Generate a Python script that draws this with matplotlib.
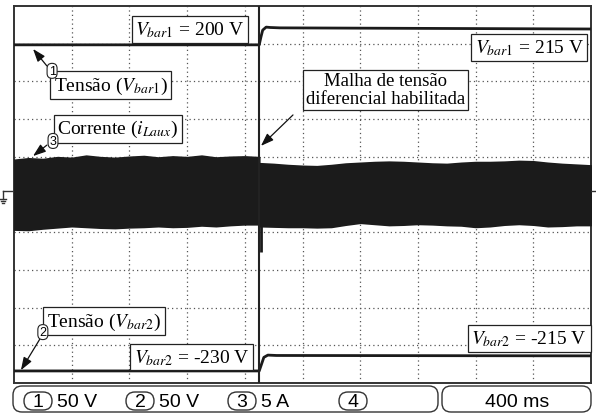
import numpy as np
import matplotlib.pyplot as plt
from matplotlib.patches import FancyBboxPatch

plt.rcParams.update({
    "font.family": ["Liberation Serif", "DejaVu Serif"],
    "mathtext.fontset": "stix",
})

#############################################
# Scope data (divisions)
# x: 10 div of 400 ms, y: 10 div (+-5)
#############################################
t_step = 4.25  # differential voltage loop enabled

# channel 1: V_bar1
v1_t = [0, 4.25, 4.28, 4.31, 4.37, 4.44, 4.61, 10]
v1_y = [3.97, 3.97, 4.18, 4.36, 4.44, 4.43, 4.42, 4.39]

# channel 2: V_bar2
v2_t = [0, 4.25, 4.29, 4.33, 4.40, 4.55, 10]
v2_y = [-4.68, -4.68, -4.50, -4.32, -4.26, -4.27, -4.28]

# channel 3: i_Laux ripple envelope (before / after the step)
env1_t = np.arange(0, 4.26, 0.25)
env1_top = [0.92, 0.96, 0.94, 0.99, 0.97, 1.03, 0.99, 0.97, 1.00,
            1.02, 0.98, 1.01, 0.99, 1.03, 0.98, 1.00, 1.01, 0.99]
env1_bot = [-0.93, -0.94, -0.90, -0.87, -0.84, -0.86, -0.88, -0.89, -0.87,
            -0.86, -0.84, -0.86, -0.85, -0.82, -0.84, -0.81, -0.79, -0.79]

env2_t = np.arange(4.25, 10.01, 0.25)
env2_top = [0.83, 0.81, 0.78, 0.76, 0.75, 0.78, 0.82, 0.84, 0.86, 0.87,
            0.86, 0.84, 0.82, 0.81, 0.84, 0.86, 0.86, 0.87, 0.89, 0.88,
            0.84, 0.81, 0.79, 0.77]
env2_bot = [-0.84, -0.85, -0.86, -0.86, -0.87, -0.86, -0.80, -0.75, -0.78,
            -0.81, -0.80, -0.78, -0.79, -0.81, -0.82, -0.86, -0.84, -0.80,
            -0.78, -0.80, -0.84, -0.83, -0.81, -0.81]

spike_t = 4.28
spike_lo = -1.53

# bottom status bar
ch_labels = ["1", "2", "3", "4"]
ch_scales = ["50 V", "50 V", "5 A", ""]
time_scale = "400 ms"

#############################################
# Figure
#############################################
fig = plt.figure(figsize=(5.96, 4.14), dpi=100)
ax = fig.add_axes([14 / 596, 30 / 414, 577 / 596, 377 / 414])
ax.set_xlim(0, 10)
ax.set_ylim(-5, 5)
ax.set_xticks(range(1, 10))
ax.set_yticks(range(-4, 5))
ax.tick_params(length=0, labelbottom=False, labelleft=False)
ax.grid(True, ls=(0, (1, 2.5)), color="#555555", lw=0.9)
for s in ax.spines.values():
    s.set_color("#333333")
    s.set_linewidth(1.4)

ink = "#1b1b1b"
ax.fill_between(env1_t, env1_bot, env1_top, color=ink, lw=1.2, ec=ink, zorder=3)
ax.fill_between(env2_t, env2_bot, env2_top, color=ink, lw=1.2, ec=ink, zorder=3)
ax.vlines(spike_t, spike_lo, -0.7, color=ink, lw=2, zorder=3)
ax.plot(v1_t, v1_y, color=ink, lw=2, zorder=4)
ax.plot(v2_t, v2_y, color=ink, lw=2, zorder=4)
ax.axvline(t_step, color="#222222", lw=1.5, zorder=5)

# annotations
box = dict(boxstyle="square,pad=0.18", fc="white", ec="#222222", lw=0.9)
txt = dict(ha="center", va="center", fontsize=14, bbox=box, zorder=7)
ax.text(3.05, 4.38, r"$V_{bar1}$ = 200 V", **txt)
ax.text(8.93, 3.90, r"$V_{bar1}$ = 215 V", **txt)
ax.text(1.68, 2.90, r"Tensão ($V_{bar1}$)", **txt)
ax.text(1.80, 1.74, r"Corrente ($i_{Laux}$)", **txt)
ax.text(1.56, -3.36, r"Tensão ($V_{bar2}$)", **txt)
ax.text(3.08, -4.31, r"$V_{bar2}$ = -230 V", **txt)
ax.text(8.93, -3.82, r"$V_{bar2}$ = -215 V", **txt)
ax.text(6.44, 2.78, "Malha de tensão\ndiferencial habilitada", ha="center",
        va="center", fontsize=13.5, linespacing=1.05,
        bbox=dict(boxstyle="square,pad=0.15", fc="white", ec="#222222", lw=0.9),
        zorder=7)

arrow = dict(arrowstyle="-|>,head_length=0.7,head_width=0.25", color="#111111",
             lw=0.9, shrinkA=0, shrinkB=0, mutation_scale=11)
ax.annotate("", xy=(0.33, 3.86), xytext=(0.57, 3.41), arrowprops=arrow, zorder=6)
ax.annotate("", xy=(0.33, 1.02), xytext=(0.57, 1.31), arrowprops=arrow, zorder=6)
ax.annotate("", xy=(0.12, -4.66), xytext=(0.45, -3.83), arrowprops=arrow, zorder=6)
ax.annotate("", xy=(4.28, 1.29), xytext=(4.835, 2.11), arrowprops=arrow, zorder=6)

badge = dict(boxstyle="round,pad=0.12,rounding_size=0.4", fc="white",
             ec="#222222", lw=0.8)
for x, y, lab in [(0.66, 3.28, "1"), (0.676, 1.42, "3"), (0.50, -3.65, "2")]:
    ax.text(x, y, lab, family="Liberation Sans", fontsize=9, ha="center",
            va="center", bbox=badge, zorder=8)

#############################################
# Overlay in pixel coords: status bar, ground mark
#############################################
ov = fig.add_axes([0, 0, 1, 1], facecolor="none")
ov.set_xlim(0, 596)
ov.set_ylim(414, 0)
ov.axis("off")

edge = "#333333"
ov.add_patch(FancyBboxPatch((13, 387), 425, 26, boxstyle="round,pad=0,rounding_size=9",
                            fc="white", ec=edge, lw=1.0))
ov.add_patch(FancyBboxPatch((442, 387), 149, 26, boxstyle="round,pad=0,rounding_size=9",
                            fc="white", ec=edge, lw=1.0))

ch_x = [38, 140, 242, 353]
for cx, lab, sc in zip(ch_x, ch_labels, ch_scales):
    ov.add_patch(FancyBboxPatch((cx - 14, 393), 28, 18,
                                boxstyle="round,pad=0,rounding_size=9",
                                fc="white", ec=edge, lw=1.0))
    ov.text(cx, 402.5, lab, family="Liberation Sans", fontsize=14,
            ha="center", va="center")
    if sc:
        ov.text(cx + 19, 402.5, sc, family="Liberation Sans", fontsize=14,
                ha="left", va="center")
ov.text(517, 402.5, time_scale, family="Liberation Sans", fontsize=14,
        ha="center", va="center")

# ground reference of channel 3 and trigger level tick
ov.plot([3, 13], [192, 192], color=edge, lw=1)
ov.plot([3, 3], [192, 200], color=edge, lw=1)
ov.plot([0, 6], [200, 200], color=edge, lw=1)
ov.plot([1, 5], [202, 202], color=edge, lw=1)
ov.plot([2, 4], [204, 204], color=edge, lw=1)
ov.plot([591, 595], [192, 192], color=edge, lw=1)

fig.savefig("out.png", dpi=100)
